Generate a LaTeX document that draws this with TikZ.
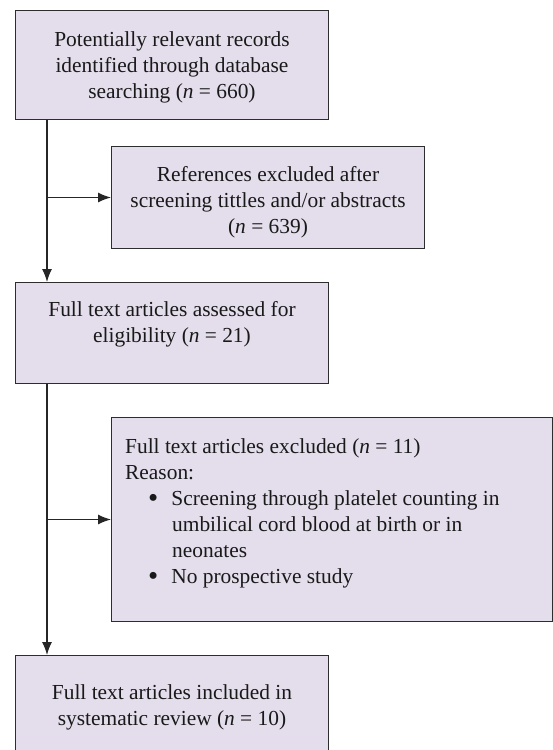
\documentclass[tikz,border=0pt]{standalone}
\usepackage{fontspec}
\setmainfont{Liberation Serif}
\usetikzlibrary{positioning,arrows.meta}
\definecolor{boxfill}{RGB}{228,221,235}
\definecolor{boxline}{RGB}{45,45,45}
\newcommand{\bigdot}{{\fontsize{29}{26}\selectfont\raisebox{-2pt}{\textbullet}}}

\begin{document}
\begin{tikzpicture}[x=1pt, y=-1pt,
    flowbox/.style={draw=boxline, fill=boxfill, line width=1pt, inner sep=0pt, anchor=north west},
    boxtext/.style={align=center, inner sep=0pt, anchor=north, text=black!90, font=\fontsize{21.4}{26}\selectfont},
    flow/.style={draw=black!85, line width=1.2pt},
    tip/.style={-{Latex[length=13pt,width=10pt]}}]
    \clip (0,0) rectangle (553,750);
    % boxes
    \node[flowbox, minimum width=313pt, minimum height=109pt] (records) at (15,10) {};
    \node[flowbox, minimum width=313pt, minimum height=102pt] (screened) at (111,146) {};
    \node[flowbox, minimum width=313pt, minimum height=101pt] (elig) at (15,282) {};
    \node[flowbox, minimum width=441pt, minimum height=204pt] (excluded) at (111,417) {};
    \node[flowbox, minimum width=313pt, minimum height=120pt] (included) at (15,655) {};
    % texts
    \node[boxtext, below=21pt of records.north] (recordstxt) {Potentially relevant records\\identified through database\\searching (\textit{n} = 660)};
    \node[boxtext, below=20pt of screened.north] (screenedtxt) {References excluded after\\screening tittles and/or abstracts\\(\textit{n} = 639)};
    \node[boxtext, below=19pt of elig.north] (eligtxt) {Full text articles assessed for\\eligibility (\textit{n} = 21)};
    \node[boxtext, align=left, anchor=north west] (excludedtxt) at (125,438) {Full text articles excluded (\textit{n} = 11)\\
        Reason:\\
        \hspace*{23pt}\bigdot\hspace{13pt}Screening through platelet counting in\\
        \hspace*{47pt}umbilical cord blood at birth or in\\
        \hspace*{47pt}neonates\\
        \hspace*{23pt}\bigdot\hspace{13pt}No prospective study};
    \node[boxtext, below=29pt of included.north] (includedtxt) {Full text articles included in\\systematic review (\textit{n} = 10)};
    % connectors
    \coordinate (trunkA) at ([xshift=32pt]records.south west);
    \coordinate (trunkB) at ([xshift=32pt]elig.south west);
    \draw[flow, tip] (trunkA) -- (trunkA |- elig.north);
    \draw[flow, tip] (trunkA |- screened.west) -- (screened.west);
    \draw[flow, tip] (trunkB) -- (trunkB |- included.north);
    \draw[flow, tip] (trunkB |- excluded.west) -- (excluded.west);
\end{tikzpicture}
\end{document}
